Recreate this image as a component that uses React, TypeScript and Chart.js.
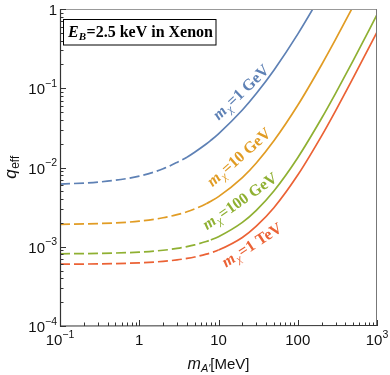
import React, { useEffect, useRef } from "react";
import { Chart, registerables } from "chart.js";

Chart.register(...registerables);

// Mediator mass m_A' [MeV]
const mediatorMassMeV = [0.1, 0.3, 1, 2, 3, 4, 5, 7, 8, 10, 20, 30, 50, 100, 200, 300, 500, 1000];
// q_eff for each dark-matter mass
const qEff1GeV = [0.00618, 0.00653, 0.00779, 0.00964, 0.0116, 0.0135, 0.0156, 0.0198, 0.022, 0.0266, 0.0532, 0.0858, 0.169, 0.482, 1.56, 3.24, 8.4, 31.8];
const qEff10GeV = [0.00192, 0.00196, 0.0021, 0.00232, 0.00254, 0.00276, 0.003, 0.00349, 0.00375, 0.00429, 0.00746, 0.0114, 0.0217, 0.0609, 0.198, 0.413, 1.08, 4.1];
const qEff100GeV = [0.000815, 0.000824, 0.000856, 0.000903, 0.000952, 0.001003, 0.001055, 0.001164, 0.00122, 0.00134, 0.00203, 0.00288, 0.00506, 0.0133, 0.0418, 0.0863, 0.223, 0.846];
const qEff1TeV = [0.000603, 0.000608, 0.000627, 0.000654, 0.000682, 0.000712, 0.000742, 0.000806, 0.000839, 0.000908, 0.00131, 0.00182, 0.00311, 0.00803, 0.0251, 0.0519, 0.135, 0.51];

const seriesNames = ["1 GeV", "10 GeV", "100 GeV", "1 TeV"];
const seriesValues = [qEff1GeV, qEff10GeV, qEff100GeV, qEff1TeV];
const dashedBelowMeV = [4, 7, 8, 10];

// Tick labels
const xTickValues = [0.1, 1, 10, 100, 1000];
const xTickBase = ["10", "1", "10", "100", "10"];
const xTickExp = ["\u22121", "", "", "", "3"];
const yTickValues = [1, 0.1, 0.01, 0.001, 0.0001];
const yTickBase = ["1", "10", "10", "10", "10"];
const yTickExp = ["", "\u22121", "\u22122", "\u22123", "\u22124"];

const COLORS = ["#5E81B5", "#E19C24", "#8FB032", "#EB6235"];

// Curve label placement (data coordinates) and rotation
const labelStyle = [
  { mass: 19.2, q: 0.089, angle: -44 },
  { mass: 18.1, q: 0.0135, angle: -41.5 },
  { mass: 18.6, q: 0.00376, angle: -35 },
  { mass: 26.3, q: 0.00105, angle: -33 },
];

const SANS = '"Liberation Sans", Arial, sans-serif';
const SERIF = '"Liberation Serif", "Times New Roman", serif';

function drawPow(ctx: CanvasRenderingContext2D, base: string, exp: string, x: number, y: number, align: "center" | "right") {
  const fb = `15px ${SANS}`;
  const fe = `10.5px ${SANS}`;
  ctx.font = fb;
  const wb = ctx.measureText(base).width;
  ctx.font = fe;
  const we = exp ? ctx.measureText(exp).width : 0;
  const total = wb + we;
  const x0 = align === "center" ? x - total / 2 : x - total;
  ctx.textAlign = "left";
  ctx.textBaseline = "alphabetic";
  ctx.font = fb;
  ctx.fillText(base, x0, y);
  if (exp) {
    ctx.font = fe;
    ctx.fillText(exp, x0 + wb, y - 7.5);
  }
}

function drawCurveLabel(ctx: CanvasRenderingContext2D, name: string, color: string, cx: number, cy: number, angle: number) {
  ctx.save();
  ctx.translate(cx, cy);
  ctx.rotate((angle * Math.PI) / 180);
  const fM = `italic bold 16px ${SERIF}`;
  const fSub = `italic 11px ${SERIF}`;
  const fRest = `bold 16px ${SERIF}`;
  ctx.font = fM;
  const wm = ctx.measureText("m").width;
  ctx.font = fSub;
  const ws = ctx.measureText("\u03C7").width;
  const rest = "=" + name;
  ctx.font = fRest;
  const wr = ctx.measureText(rest).width;
  const total = wm + 1 + ws + 1 + wr;
  let x = -total / 2;
  const base = 5;
  ctx.fillStyle = color;
  ctx.textAlign = "left";
  ctx.textBaseline = "alphabetic";
  ctx.font = fM;
  ctx.fillText("m", x, base);
  x += wm + 1;
  ctx.font = fSub;
  ctx.fillText("\u03C7", x, base + 3);
  x += ws + 1;
  ctx.font = fRest;
  ctx.fillText(rest, x, base);
  ctx.restore();
}

const decorPlugin = {
  id: "decor",
  afterDraw(chart: any) {
    const ctx: CanvasRenderingContext2D = chart.ctx;
    const xs = chart.scales.x;
    const ys = chart.scales.y;
    const { left, right, top, bottom } = chart.chartArea;
    ctx.save();

    // frame
    ctx.lineWidth = 1;
    ctx.strokeStyle = "#999";
    ctx.beginPath();
    ctx.moveTo(left, top + 0.5);
    ctx.lineTo(right, top + 0.5);
    ctx.stroke();
    ctx.strokeStyle = "#777";
    ctx.beginPath();
    ctx.moveTo(right - 0.5, top);
    ctx.lineTo(right - 0.5, bottom);
    ctx.stroke();
    ctx.strokeStyle = "#333";
    ctx.lineWidth = 1.2;
    ctx.beginPath();
    ctx.moveTo(left + 0.5, top);
    ctx.lineTo(left + 0.5, bottom);
    ctx.lineTo(right, bottom - 0.5);
    ctx.stroke();

    // ticks
    ctx.lineWidth = 1;
    ctx.strokeStyle = "#333";
    for (let d = -1; d <= 2; d++) {
      for (let k = 1; k <= 10; k++) {
        const v = k * Math.pow(10, d);
        const px = Math.round(xs.getPixelForValue(v)) + 0.5;
        const len = k === 1 || k === 10 ? 6 : 3.5;
        ctx.beginPath();
        ctx.moveTo(px, bottom);
        ctx.lineTo(px, bottom - len);
        ctx.stroke();
      }
    }
    for (let d = -4; d <= -1; d++) {
      for (let k = 1; k <= 10; k++) {
        const v = k * Math.pow(10, d);
        const py = Math.round(ys.getPixelForValue(v)) + 0.5;
        const len = k === 1 || k === 10 ? 6 : 3.5;
        ctx.beginPath();
        ctx.moveTo(left, py);
        ctx.lineTo(left + len, py);
        ctx.stroke();
      }
    }

    // tick labels
    ctx.fillStyle = "#111";
    xTickValues.forEach((v, i) => {
      drawPow(ctx, xTickBase[i], xTickExp[i], xs.getPixelForValue(v), bottom + 19, "center");
    });
    yTickValues.forEach((v, i) => {
      drawPow(ctx, yTickBase[i], yTickExp[i], left - 3, ys.getPixelForValue(v) + 6, "right");
    });

    // axis titles
    {
      const cx = (left + right) / 2;
      const fm = `italic 16px ${SANS}`;
      const fs = `italic 11px ${SANS}`;
      const fr = `15px ${SANS}`;
      ctx.font = fm;
      const wm = ctx.measureText("m").width;
      ctx.font = fs;
      const ws = ctx.measureText("A\u2032").width;
      ctx.font = fr;
      const wr = ctx.measureText("[MeV]").width;
      let x = cx - (wm + ws + wr) / 2;
      const y = 369;
      ctx.textAlign = "left";
      ctx.font = fm;
      ctx.fillText("m", x, y);
      x += wm;
      ctx.font = fs;
      ctx.fillText("A\u2032", x, y + 2.5);
      x += ws;
      ctx.font = fr;
      ctx.fillText("[MeV]", x, y);
    }
    {
      ctx.save();
      ctx.translate(16, (top + bottom) / 2);
      ctx.rotate(-Math.PI / 2);
      const fq = `italic 17px ${SANS}`;
      const fs = `12px ${SANS}`;
      ctx.font = fq;
      const wq = ctx.measureText("q").width;
      ctx.font = fs;
      const we = ctx.measureText("eff").width;
      let x = -(wq + we) / 2;
      ctx.textAlign = "left";
      ctx.font = fq;
      ctx.fillText("q", x, 0);
      x += wq + 0.5;
      ctx.font = fs;
      ctx.fillText("eff", x, 2.5);
      ctx.restore();
    }

    // title box
    {
      ctx.fillStyle = "#fff";
      ctx.fillRect(63.5, 19.5, 152.5, 25.5);
      ctx.strokeStyle = "#000";
      ctx.lineWidth = 1;
      ctx.strokeRect(63.5, 19.5, 152.5, 25.5);
      ctx.fillStyle = "#000";
      let x = 68;
      const y = 37;
      const fe = `italic bold 16px ${SERIF}`;
      const fs = `italic bold 11px ${SERIF}`;
      const fr = `bold 16px ${SERIF}`;
      ctx.font = fe;
      ctx.fillText("E", x, y);
      x += ctx.measureText("E").width;
      ctx.font = fs;
      ctx.fillText("B", x, y + 3);
      x += ctx.measureText("B").width + 0.5;
      ctx.font = fr;
      ctx.fillText("=2.5 keV in Xenon", x, y);
    }

    // curve labels
    labelStyle.forEach((s, i) => {
      drawCurveLabel(ctx, seriesNames[i], COLORS[i], xs.getPixelForValue(s.mass), ys.getPixelForValue(s.q), s.angle);
    });

    ctx.restore();
  },
};

export default function App() {
  const canvasRef = useRef<HTMLCanvasElement | null>(null);

  useEffect(() => {
    const canvas = canvasRef.current;
    if (!canvas) return;
    const datasets = seriesValues.map((vals, i) => ({
      label: seriesNames[i],
      data: mediatorMassMeV.map((m, j) => ({ x: m, y: vals[j] })),
      borderColor: COLORS[i],
      backgroundColor: COLORS[i],
      borderWidth: 1.7,
      pointRadius: 0,
      fill: false,
      tension: 0.4,
      cubicInterpolationMode: "monotone" as const,
      clip: 0,
      segment: {
        borderDash: (c: any) => (c.p1.parsed.x <= dashedBelowMeV[i] + 1e-9 ? [10, 4] : undefined),
      },
    }));
    const chart = new Chart(canvas, {
      type: "line",
      data: { datasets },
      options: {
        responsive: false,
        animation: false,
        devicePixelRatio: 1,
        layout: { padding: { left: 60, right: 13, top: 9, bottom: 49 } },
        scales: {
          x: { type: "logarithmic", min: 0.1, max: 1000, display: false },
          y: { type: "logarithmic", min: 0.0001, max: 1, display: false },
        },
        plugins: { legend: { display: false }, tooltip: { enabled: false } },
        elements: { point: { radius: 0 } },
      },
      plugins: [decorPlugin],
    });
    return () => chart.destroy();
  }, []);

  return (
    <div style={{ position: "absolute", left: 0, top: 0, width: 390, height: 375, background: "#fff" }}>
      <canvas ref={canvasRef} width={390} height={375} style={{ display: "block" }} />
    </div>
  );
}
